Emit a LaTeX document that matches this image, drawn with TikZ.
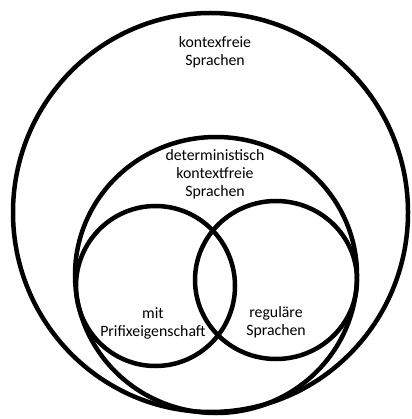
\documentclass[tikz,border=0pt]{standalone}
\usepackage{fontspec}
\setmainfont{Carlito}
\begin{document}
\begin{tikzpicture}[x=1pt,y=-1pt,
  setline/.style={line width=4.5pt},
  label/.style={align=center,font=\fontsize{15.8}{18}\selectfont,inner sep=0pt}]
\useasboundingbox (0,0) rectangle (411,419);
% language classes
\draw[setline] (210.5,212.5) ellipse [x radius=197.5, y radius=199.5];
\draw[setline] (216,275) ellipse [x radius=141, y radius=138];
\draw[setline] (155.5,286) ellipse [x radius=79.5, y radius=80];
\draw[setline] (276,280) ellipse [x radius=81, y radius=79];
% class names
\node[label] (cf) at (215,52) {kontexfreie\\Sprachen};
\node[label] (dcf) at (215,174) {deterministisch\\kontextfreie\\Sprachen};
\node[label] (pre) at (153,323) {mit\\Prifixeigenschaft};
\node[label] (reg) at (276,322) {reguläre\\Sprachen};
\end{tikzpicture}
\end{document}
